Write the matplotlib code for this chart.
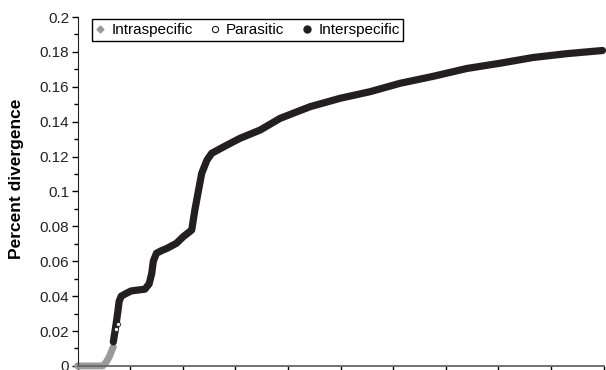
import matplotlib
matplotlib.use("Agg")
import matplotlib.pyplot as plt
from matplotlib.lines import Line2D
from matplotlib.ticker import MultipleLocator

plt.rcParams["font.family"] = ["Liberation Sans", "DejaVu Sans"]

# sorted pairwise comparisons (rank on x, divergence on y)
intra_x = [0, 15, 30, 48, 54, 60, 66, 68]
intra_y = [0.0, 0.0, 0.0, 0.0, 0.002, 0.005, 0.0095, 0.011]

para_x = [74, 76]
para_y = [0.021, 0.024]

inter_x = [68, 73, 77, 79, 83, 92, 102, 115, 128, 136, 141, 144, 150, 159, 170,
           188, 201, 217, 223, 230, 236, 246, 255, 284, 309, 347, 385, 442, 499,
           556, 613, 676, 740, 803, 866, 930, 998]
inter_y = [0.0138, 0.0235, 0.032, 0.037, 0.040, 0.0415, 0.043, 0.0435, 0.044,
           0.047, 0.053, 0.060, 0.0646, 0.066, 0.0674, 0.0703, 0.0741, 0.0779,
           0.0894, 0.1008, 0.1104, 0.118, 0.1219, 0.1266, 0.1305, 0.1352, 0.1419,
           0.1486, 0.1534, 0.1572, 0.162, 0.166, 0.1705, 0.1735, 0.1768, 0.179,
           0.1808]

GRAY = "#9a9a9a"
DARK = "#231f20"

fig = plt.figure(figsize=(6.06, 3.70), dpi=100)
ax = fig.add_axes([0.128, 0.011, 0.868, 0.943])

# dense dot trails drawn as thick round-capped bands
ax.plot(intra_x, intra_y, color=GRAY, lw=5, solid_capstyle="round",
        solid_joinstyle="round", clip_on=False, zorder=2)
ax.plot(inter_x, inter_y, color=DARK, lw=5.2, solid_capstyle="round",
        solid_joinstyle="round", clip_on=False, zorder=3)
ax.plot(para_x, para_y, "o", ms=3, mfc="white", mec=DARK, mew=0.6, zorder=4)

ax.set_xlim(0, 1000)
ax.set_ylim(0, 0.2)
ax.xaxis.set_major_locator(MultipleLocator(100))
ax.set_xticklabels([])
ax.yaxis.set_major_locator(MultipleLocator(0.02))
ax.yaxis.set_minor_locator(MultipleLocator(0.01))
ax.yaxis.set_major_formatter(plt.FuncFormatter(lambda v, p: f"{v:g}"))
ax.tick_params(axis="y", which="major", direction="out", length=4, width=1,
               labelsize=11, pad=2, labelcolor="#222222")
ax.tick_params(axis="y", which="minor", direction="out", length=3, width=1)
ax.tick_params(axis="x", which="major", direction="out", length=4, width=1)
for s in ("top", "right"):
    ax.spines[s].set_visible(False)
ax.spines["left"].set_color("#222222")
ax.spines["bottom"].set_color("#666666")
ax.spines["bottom"].set_linewidth(1.3)

ax.set_ylabel("Percent divergence", fontsize=12.5, fontweight="bold")
ax.yaxis.set_label_coords(-0.101, 0.536)

handles = [
    Line2D([], [], ls="none", marker="D", ms=3.5, color=GRAY),
    Line2D([], [], ls="none", marker="o", ms=4.5, mfc="white", mec=DARK, mew=0.8),
    Line2D([], [], ls="none", marker="o", ms=5, color=DARK),
]
leg = ax.legend(handles, ["Intraspecific", "Parasitic", "Interspecific"],
                loc="upper left", bbox_to_anchor=(0.0276, 0.994), borderaxespad=0,
                ncol=3, fontsize=11, handlelength=0.6, handletextpad=0.4,
                columnspacing=1.2, borderpad=0.25, fancybox=False, framealpha=1)
leg.get_frame().set_edgecolor("black")
leg.get_frame().set_linewidth(1)

fig.savefig("out.png", dpi=100)
